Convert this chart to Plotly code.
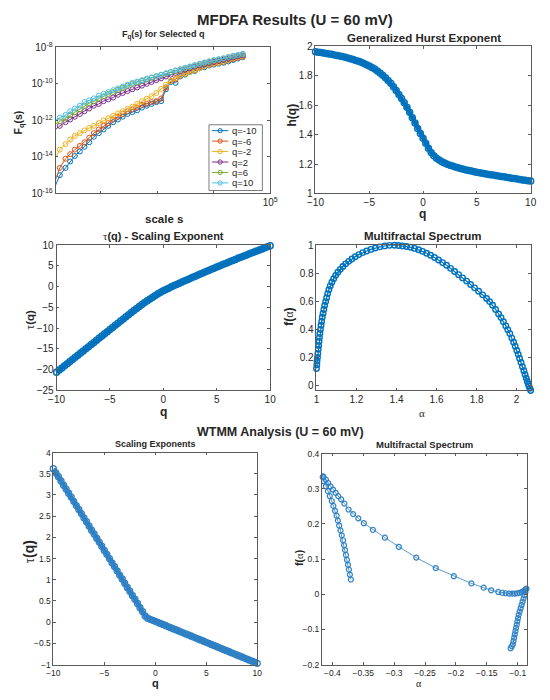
import math
import plotly.graph_objects as go

# ---------------- data ----------------
scale_s = [16, 19, 24, 29, 35, 43, 52, 63, 76, 93, 113, 137, 167, 203, 247, 300, 365, 444, 540, 657,
           798, 971, 1180, 1435, 1745, 2122, 2580, 3137, 3814, 4638, 5639, 6855, 8336, 10134, 12322,
           14983, 18217, 22150, 26935, 32768]
q_selected = [-10, -6, -2, 2, 6, 10]
log10_Fq_qm10 = [-15.55, -15.0, -14.6, -14.25, -13.95, -13.7, -13.45, -13.2, -12.9, -12.7,
                 -12.5, -12.3, -12.1, -11.95, -11.8, -11.65, -11.55, -11.45, -11.3, -11.2,
                 -11.1, -11.0, -10.95, -10.3, -9.9, -9.95, -9.6, -9.5, -9.35, -9.3,
                 -9.15, -9.1, -9.0, -8.95, -8.9, -8.85, -8.78, -8.7, -8.62, -8.55]
log10_Fq_qm6 = [-15.25, -14.6, -14.1, -13.85, -13.6, -13.4, -13.2, -12.95, -12.7, -12.5,
                -12.3, -12.15, -11.95, -11.8, -11.65, -11.5, -11.4, -11.3, -11.15, -11.1,
                -11.0, -10.95, -10.8, -10.2, -9.85, -9.75, -9.55, -9.45, -9.3, -9.25,
                -9.1, -9.05, -8.95, -8.9, -8.85, -8.8, -8.72, -8.65, -8.58, -8.52]
log10_Fq_qm2 = [-14.05, -13.6, -13.3, -13.05, -12.85, -12.7, -12.55, -12.42, -12.3, -12.15,
                -12.0, -11.88, -11.75, -11.62, -11.5, -11.37, -11.25, -11.1, -10.95, -10.82,
                -10.68, -10.5, -10.28, -10.05, -9.85, -9.7, -9.55, -9.45, -9.35, -9.25,
                -9.15, -9.05, -8.95, -8.9, -8.85, -8.78, -8.7, -8.62, -8.56, -8.5]
log10_Fq_q2 = [-12.5, -12.3, -12.1, -11.95, -11.8, -11.65, -11.5, -11.35, -11.2, -11.1,
               -10.95, -10.85, -10.75, -10.6, -10.5, -10.4, -10.3, -10.2, -10.1, -10.0,
               -9.9, -9.8, -9.7, -9.6, -9.5, -9.4, -9.3, -9.22, -9.15, -9.07,
               -9.0, -8.93, -8.87, -8.8, -8.74, -8.68, -8.62, -8.56, -8.5, -8.45]
log10_Fq_q6 = [-12.2, -12.05, -11.9, -11.7, -11.55, -11.4, -11.2, -11.05, -10.95, -10.8,
               -10.68, -10.55, -10.45, -10.33, -10.22, -10.1, -10.0, -9.92, -9.84, -9.76,
               -9.68, -9.6, -9.52, -9.45, -9.37, -9.3, -9.22, -9.15, -9.08, -9.0,
               -8.93, -8.86, -8.8, -8.73, -8.68, -8.62, -8.55, -8.49, -8.44, -8.38]
log10_Fq_q10 = [-12.0, -11.85, -11.7, -11.5, -11.35, -11.2, -11.0, -10.9, -10.8, -10.65,
                -10.55, -10.45, -10.35, -10.25, -10.15, -10.05, -9.95, -9.88, -9.8, -9.72,
                -9.65, -9.58, -9.5, -9.42, -9.35, -9.27, -9.2, -9.12, -9.05, -8.98,
                -8.9, -8.83, -8.77, -8.7, -8.65, -8.6, -8.53, -8.47, -8.42, -8.36]

q_grid = [-10, -9.75, -9.5, -9.25, -9, -8.75, -8.5, -8.25, -8, -7.75,
          -7.5, -7.25, -7, -6.75, -6.5, -6.25, -6, -5.75, -5.5, -5.25,
          -5, -4.75, -4.5, -4.25, -4, -3.75, -3.5, -3.25, -3, -2.75,
          -2.5, -2.25, -2, -1.75, -1.5, -1.25, -1, -0.75, -0.5, -0.25,
          0, 0.25, 0.5, 0.75, 1, 1.25, 1.5, 1.75, 2, 2.25,
          2.5, 2.75, 3, 3.25, 3.5, 3.75, 4, 4.25, 4.5, 4.75,
          5, 5.25, 5.5, 5.75, 6, 6.25, 6.5, 6.75, 7, 7.25,
          7.5, 7.75, 8, 8.25, 8.5, 8.75, 9, 9.25, 9.5, 9.75, 10]
h_mfdfa = [1.962, 1.959, 1.957, 1.954, 1.951, 1.948, 1.945, 1.941, 1.938, 1.934,
           1.930, 1.926, 1.921, 1.916, 1.910, 1.904, 1.898, 1.891, 1.883, 1.875,
           1.866, 1.856, 1.845, 1.832, 1.818, 1.803, 1.786, 1.768, 1.748, 1.725,
           1.700, 1.673, 1.645, 1.616, 1.585, 1.551, 1.515, 1.479, 1.442, 1.408,
           1.375, 1.341, 1.308, 1.279, 1.257, 1.240, 1.227, 1.216, 1.207, 1.199,
           1.192, 1.186, 1.180, 1.175, 1.170, 1.165, 1.160, 1.156, 1.152, 1.148,
           1.144, 1.141, 1.138, 1.134, 1.131, 1.128, 1.125, 1.122, 1.119, 1.116,
           1.113, 1.110, 1.107, 1.104, 1.101, 1.098, 1.095, 1.092, 1.090, 1.087, 1.084]
tau_mfdfa = [-20.62, -20.10, -19.59, -19.07, -18.56, -18.05, -17.53, -17.01, -16.50, -15.99,
             -15.48, -14.96, -14.45, -13.93, -13.42, -12.90, -12.39, -11.87, -11.36, -10.84,
             -10.33, -9.82, -9.30, -8.79, -8.27, -7.76, -7.25, -6.75, -6.24, -5.74,
             -5.25, -4.76, -4.29, -3.83, -3.38, -2.94, -2.52, -2.11, -1.72, -1.35,
             -1.00, -0.66, -0.35, -0.04, 0.26, 0.55, 0.84, 1.13, 1.41, 1.70,
             1.98, 2.26, 2.54, 2.82, 3.10, 3.37, 3.64, 3.91, 4.18, 4.45,
             4.72, 4.99, 5.26, 5.52, 5.79, 6.05, 6.31, 6.57, 6.83, 7.09,
             7.35, 7.60, 7.86, 8.11, 8.36, 8.61, 8.86, 9.10, 9.36, 9.60, 9.84]
alpha_mfdfa = [1.000, 1.002, 1.003, 1.005, 1.007, 1.009, 1.011, 1.013, 1.015, 1.017,
               1.020, 1.023, 1.026, 1.029, 1.033, 1.037, 1.041, 1.046, 1.051, 1.056,
               1.062, 1.069, 1.077, 1.086, 1.096, 1.107, 1.119, 1.132, 1.146, 1.161,
               1.177, 1.194, 1.212, 1.231, 1.251, 1.272, 1.294, 1.317, 1.341, 1.365, 1.390,
               1.41, 1.43, 1.45, 1.47, 1.49, 1.51, 1.53, 1.55, 1.57, 1.59,
               1.61, 1.63, 1.65, 1.67, 1.69, 1.71, 1.73, 1.75, 1.77, 1.79,
               1.81, 1.83, 1.85, 1.865, 1.88, 1.895, 1.91, 1.922, 1.934, 1.946,
               1.956, 1.966, 1.976, 1.985, 1.993, 2.001, 2.008, 2.015, 2.022, 2.029,
               2.036, 2.042, 2.048, 2.053, 2.058, 2.062, 2.066, 2.070]
f_mfdfa = [0.121, 0.148, 0.174, 0.200, 0.229, 0.258, 0.286, 0.314, 0.343, 0.371,
           0.400, 0.429, 0.457, 0.486, 0.514, 0.542, 0.570, 0.598, 0.626, 0.655,
           0.683, 0.710, 0.736, 0.761, 0.785, 0.807, 0.828, 0.848, 0.867, 0.885,
           0.902, 0.918, 0.933, 0.947, 0.959, 0.970, 0.980, 0.988, 0.995, 0.999, 1.000,
           0.998, 0.995, 0.991, 0.985, 0.977, 0.967, 0.956, 0.943, 0.928, 0.912,
           0.894, 0.876, 0.857, 0.835, 0.813, 0.790, 0.767, 0.744, 0.720, 0.696,
           0.672, 0.646, 0.620, 0.598, 0.572, 0.542, 0.510, 0.484, 0.455, 0.425,
           0.398, 0.370, 0.338, 0.308, 0.280, 0.250, 0.222, 0.193, 0.164, 0.134,
           0.105, 0.079, 0.053, 0.031, 0.011, -0.005, -0.020, -0.035]

tau_wtmm = [3.62, 3.52, 3.43, 3.33, 3.23, 3.14, 3.04, 2.95, 2.85, 2.75,
            2.66, 2.56, 2.46, 2.37, 2.27, 2.17, 2.08, 1.98, 1.89, 1.79,
            1.69, 1.60, 1.50, 1.40, 1.31, 1.21, 1.11, 1.02, 0.92, 0.82,
            0.73, 0.63, 0.54, 0.44, 0.34, 0.25, 0.145, 0.092, 0.068, 0.044,
            0.020, -0.005, -0.030, -0.054, -0.079, -0.104, -0.129, -0.153, -0.178, -0.203,
            -0.228, -0.252, -0.277, -0.302, -0.327, -0.351, -0.376, -0.401, -0.426, -0.450,
            -0.475, -0.500, -0.525, -0.549, -0.574, -0.599, -0.624, -0.648, -0.673, -0.698,
            -0.723, -0.747, -0.772, -0.797, -0.822, -0.846, -0.871, -0.896, -0.921, -0.945, -0.970]
alpha_wtmm = [-0.3701, -0.3717, -0.3733, -0.3748, -0.3764, -0.3780, -0.3795, -0.3811, -0.3827, -0.3848,
              -0.3869, -0.3890, -0.3911, -0.3932, -0.3958, -0.3984, -0.4010, -0.4042, -0.4073, -0.4105,
              -0.4136, -0.4157, -0.4173,
              -0.4147, -0.4105, -0.4068, -0.4031, -0.3990, -0.3948, -0.3906, -0.3858, -0.3806, -0.3738,
              -0.3664, -0.3580, -0.3491, -0.3345, -0.3150, -0.2925, -0.2642, -0.2327, -0.2034, -0.1750,
              -0.1551, -0.1430, -0.1315, -0.1250, -0.1195, -0.1140, -0.1090, -0.1045, -0.1005, -0.0970,
              -0.0940, -0.0912, -0.0888, -0.0870, -0.0859,
              -0.0875, -0.0890, -0.0906, -0.0922, -0.0938, -0.0953, -0.0969, -0.0985, -0.0995, -0.1006,
              -0.1016, -0.1027, -0.1037, -0.1048, -0.1058, -0.1069, -0.1079, -0.1095, -0.1116]
f_wtmm = [0.0419, 0.0558, 0.0698, 0.0837, 0.0977, 0.1116, 0.1256, 0.1395, 0.1535, 0.1674,
          0.1814, 0.1953, 0.2093, 0.2233, 0.2372, 0.2512, 0.2651, 0.2791, 0.2930, 0.3070,
          0.3209, 0.3330, 0.3442,
          0.3349, 0.3256, 0.3163, 0.3070, 0.2977, 0.2884, 0.2791, 0.2698, 0.2577, 0.2409,
          0.2279, 0.2158, 0.2019, 0.1833, 0.1609, 0.1349, 0.1042, 0.0744, 0.0512, 0.0307,
          0.0186, 0.0112, 0.0065, 0.0042, 0.0028, 0.0019, 0.0016, 0.0019, 0.0028, 0.0042,
          0.0060, 0.0084, 0.0112, 0.0140, 0.0158,
          0.0065, -0.0028, -0.0121, -0.0214, -0.0307, -0.0400, -0.0493, -0.0586, -0.0679, -0.0772,
          -0.0865, -0.0958, -0.1051, -0.1144, -0.1237, -0.1330, -0.1423, -0.1480, -0.1535]

fq_series = [log10_Fq_qm10, log10_Fq_qm6, log10_Fq_qm2, log10_Fq_q2, log10_Fq_q6, log10_Fq_q10]
fq_colors = ["#0072BD", "#D95319", "#EDB120", "#7E2F8E", "#77AC30", "#4DBEEE"]
fq_decades = [-16, -14, -12, -10, -8]

# ---------------- styling ----------------
W, H = 550, 700
FONT = "Liberation Sans, Arial, sans-serif"
SERIF = "Liberation Serif, Times New Roman, serif"
TXT = "#262626"
AXC = "#5a5a5a"
BLUE = "#0072BD"
BLUE2 = "#2f80c4"


def px(x):
    return x / W


def py(y):
    return 1 - y / H


def axis(dom, anchor, size=10, **kw):
    d = dict(domain=dom, anchor=anchor, showline=True, linecolor=AXC, linewidth=0.8,
             mirror="allticks", ticks="inside", ticklen=3, tickwidth=0.8, tickcolor=AXC,
             showgrid=False, zeroline=False,
             tickfont=dict(family=FONT, size=size, color=TXT))
    d.update(kw)
    return d


fig = go.Figure()

for vals, col in zip(fq_series, fq_colors):
    fig.add_trace(go.Scatter(
        x=scale_s, y=[10 ** v for v in vals], mode="lines+markers",
        line=dict(color=col, width=1),
        marker=dict(symbol="circle-open", size=5, color=col, line=dict(width=1)),
        xaxis="x", yaxis="y", showlegend=False, cliponaxis=False))

band_marker = dict(symbol="circle-open", size=6, color=BLUE, line=dict(width=1.5))
fig.add_trace(go.Scatter(x=q_grid, y=h_mfdfa, mode="lines+markers",
                         line=dict(color=BLUE, width=4.5), marker=band_marker,
                         xaxis="x2", yaxis="y2", showlegend=False, cliponaxis=False))
fig.add_trace(go.Scatter(x=q_grid, y=tau_mfdfa, mode="lines+markers",
                         line=dict(color=BLUE, width=4.5), marker=band_marker,
                         xaxis="x3", yaxis="y3", showlegend=False, cliponaxis=False))
fig.add_trace(go.Scatter(x=alpha_mfdfa, y=f_mfdfa, mode="lines+markers",
                         line=dict(color=BLUE, width=1.2),
                         marker=dict(symbol="circle-open", size=5.5, color=BLUE, line=dict(width=1.4)),
                         xaxis="x4", yaxis="y4", showlegend=False, cliponaxis=False))
fig.add_trace(go.Scatter(x=q_grid, y=tau_wtmm, mode="lines+markers",
                         line=dict(color=BLUE2, width=4.5),
                         marker=dict(symbol="circle-open", size=6, color=BLUE2, line=dict(width=1.3)),
                         xaxis="x5", yaxis="y5", showlegend=False, cliponaxis=False))
fig.add_trace(go.Scatter(x=alpha_wtmm, y=f_wtmm, mode="lines+markers",
                         line=dict(color=BLUE2, width=0.8),
                         marker=dict(symbol="circle-open", size=5, color=BLUE2, line=dict(width=1.2)),
                         xaxis="x6", yaxis="y6", showlegend=False, cliponaxis=False))

layout = dict(
    width=W, height=H, margin=dict(l=0, r=0, t=0, b=0),
    paper_bgcolor="white", plot_bgcolor="white", showlegend=False,
    font=dict(family=FONT, color=TXT),
)
layout["xaxis"] = axis([px(49), px(270)], "y", type="log", range=[math.log10(scale_s[0]), 5],
                       tickvals=[1e2, 1e3, 1e4, 1e5], ticktext=["", "", "", "10<sup>5</sup>"])
layout["yaxis"] = axis([py(190), py(41)], "x", type="log", range=[fq_decades[0], fq_decades[-1]],
                       tickvals=[10 ** d for d in fq_decades],
                       ticktext=["10<sup>%d</sup>" % d for d in fq_decades])
layout["xaxis2"] = axis([px(316.7), px(538.3)], "y2", range=[-10, 10], dtick=5)
layout["yaxis2"] = axis([py(190), py(40)], "x2", range=[1, 2], dtick=0.2)
layout["xaxis3"] = axis([px(50), px(270)], "y3", range=[-10, 10], dtick=5)
layout["yaxis3"] = axis([py(390.7), py(242.7)], "x3", range=[-25, 10], dtick=5)
layout["xaxis4"] = axis([px(317.7), px(538.3)], "y4", range=[min(alpha_mfdfa), max(alpha_mfdfa)],
                        dtick=0.2, tick0=1)
layout["yaxis4"] = axis([py(390.7), py(242.7)], "x4", range=[min(f_mfdfa), max(f_mfdfa)],
                        dtick=0.2, tick0=0)
layout["xaxis5"] = axis([px(46.7), px(256.7)], "y5", size=8.5, range=[-10, 10], dtick=5)
layout["yaxis5"] = axis([py(670), py(454)], "x5", size=8.5, range=[-1, 4], dtick=0.5)
layout["xaxis6"] = axis([px(323.3), px(534.3)], "y6", size=8.5, range=[-0.417, -0.0854],
                        dtick=0.05, tick0=-0.4)
layout["yaxis6"] = axis([py(670), py(455)], "x6", size=8.5, range=[-0.2, 0.4], dtick=0.1)

ann = []


def text(t, x, y, size, angle=0, family=FONT, xanchor="center"):
    ann.append(dict(text=t, x=px(x), y=py(y), xref="paper", yref="paper", showarrow=False,
                    xanchor=xanchor, yanchor="middle", textangle=angle,
                    font=dict(family=family, size=size, color=TXT)))


TAU = '<span style="font-family:Liberation Serif">τ</span>'
ALPHA = '<span style="font-family:Liberation Serif">α</span>'

text("<b>MFDFA Results (U = 60 mV)</b>", 296, 12.5, 15)
text("<b>F<sub>q</sub>(s) for Selected q</b>", 160, 29, 9)
text("<b>Generalized Hurst Exponent</b>", 428, 32, 11.5)
text(TAU + "<b>(q) - Scaling Exponent</b>", 160, 233, 11)
text("<b>Multifractal Spectrum</b>", 427.5, 233.5, 11.5)
text("<b>WTMM Analysis (U = 60 mV)</b>", 281, 433, 12.5)
text("<b>Scaling Exponents</b>", 152, 445.5, 9)
text("<b>Multifractal Spectrum</b>", 428.5, 446, 9.5)

text("<b>scale s</b>", 161, 216, 11.5)
text("<b>F<sub>q</sub>(s)</b>", 11, 118, 10.5, angle=-90)
text("<b>h(q)</b>", 292, 110, 12, angle=-90)
text("<b>q</b>", 427, 211, 12)
text(TAU + "<b>(q)</b>", 23, 319, 11.5, angle=-90)
text("<b>q</b>", 160, 413, 12)
text("<b>f(</b>" + ALPHA + "<b>)</b>", 290, 316, 12, angle=-90)
text("α", 426.7, 414, 11, family=SERIF)
text(TAU + "<b>(q)</b>", 21.5, 555, 14, angle=-90)
text("<b>q</b>", 151.7, 689, 11)
text("<b>f(</b>" + ALPHA + "<b>)</b>", 299, 561, 10.5, angle=-90)
text("α", 423, 689, 10, family=SERIF)

shapes = [dict(type="rect", xref="paper", yref="paper", x0=px(207), x1=px(262), y0=py(187), y1=py(120),
               line=dict(color=AXC, width=0.8), fillcolor="white", layer="above")]
for i, (qv, col) in enumerate(zip(q_selected, fq_colors)):
    yc = 126 + i * 10.65
    shapes.append(dict(type="line", xref="paper", yref="paper", x0=px(210), x1=px(227),
                       y0=py(yc), y1=py(yc), line=dict(color=col, width=1), layer="above"))
    shapes.append(dict(type="circle", xref="paper", yref="paper", x0=px(216.3), x1=px(220.7),
                       y0=py(yc + 2.2), y1=py(yc - 2.2), line=dict(color=col, width=1),
                       fillcolor="rgba(0,0,0,0)", layer="above"))
    text("q=%d" % qv, 229, yc, 9.5, xanchor="left")

layout["annotations"] = ann
layout["shapes"] = shapes
fig.update_layout(**layout)
fig.write_html(
    "out.html",
    config={"displayModeBar": False},
    post_script=("document.body.style.margin='0';document.body.style.padding='0';"
                 "document.body.style.overflow='hidden';"),
)
